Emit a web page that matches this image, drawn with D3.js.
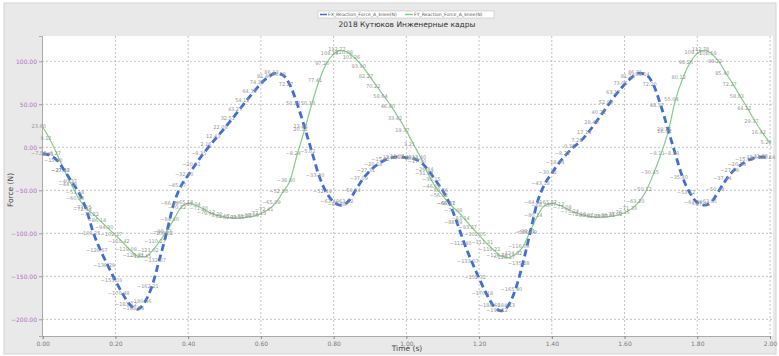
<!DOCTYPE html>
<meta charset="utf-8" />
<script src="https://d3js.org/d3.v7.min.js"></script>
<style>
	body { margin: 0; background: #fff; }
	text { font-family: "DejaVu Sans", sans-serif; }
</style>
<div id="chart"></div>
<script>
	// sample times (s)
	var times = [
		0.00, 0.02, 0.04, 0.06, 0.08, 0.10, 0.12, 0.14, 0.16, 0.18,
		0.20, 0.22, 0.24, 0.26, 0.28, 0.30, 0.32, 0.34, 0.36, 0.38,
		0.40, 0.42, 0.44, 0.46, 0.48, 0.50, 0.52, 0.54, 0.56, 0.58,
		0.60, 0.62, 0.64, 0.66, 0.68, 0.70, 0.72, 0.74, 0.76, 0.78,
		0.80, 0.82, 0.84, 0.86, 0.88, 0.90, 0.92, 0.94, 0.96, 0.98,
		1.00, 1.02, 1.04, 1.06, 1.08, 1.10, 1.12, 1.14, 1.16, 1.18,
		1.20, 1.22, 1.24, 1.26, 1.28, 1.30, 1.32, 1.34, 1.36, 1.38,
		1.40, 1.42, 1.44, 1.46, 1.48, 1.50, 1.52, 1.54, 1.56, 1.58,
		1.60, 1.62, 1.64, 1.66, 1.68, 1.70, 1.72, 1.74, 1.76, 1.78,
		1.80, 1.82, 1.84, 1.86, 1.88, 1.90, 1.92, 1.94, 1.96, 1.98,
		2.00
	];

	// FX reaction force (N)
	var fx = [
		-7.52, -9.31, -15.40, -27.12, -40.37, -53.18, -72.44, -100.25, -120.67, -138.29,
		-155.03, -170.48, -183.12, -188.54, -180.36, -162.21, -132.07, -100.52, -66.18, -45.27,
		-32.40, -20.11, -8.35, 2.16, 12.43, 22.08, 32.51, 43.27, 54.12, 64.35,
		74.18, 81.46, 86.13, 84.08, 72.27, 50.32, 23.46, -5.02, -33.20, -52.49,
		-63.40, -67.38, -63.12, -50.24, -37.09, -27.31, -20.18, -15.02, -12.11, -11.07,
		-12.03, -13.21, -17.30, -26.44, -38.15, -50.36, -66.47, -88.29, -112.40, -133.07,
		-152.32, -170.18, -184.60, -190.22, -184.13, -165.40, -135.28, -100.09, -64.31, -43.18,
		-30.12, -18.04, -8.21, 0.35, 7.29, 17.14, 28.40, 40.22, 52.08, 63.17,
		73.05, 81.22, 86.31, 84.14, 72.20, 48.37, 20.15, -8.23, -35.40, -53.12,
		-64.28, -67.31, -63.05, -50.18, -37.24, -27.09, -20.33, -15.12, -12.08, -11.30,
		-12.14
	];

	// FY reaction force (N)
	var fy = [
		23.60, 9.12, -8.27, -27.40, -44.18, -60.33, -71.05, -78.22, -86.14, -94.30,
		-102.17, -110.42, -119.08, -126.31, -127.45, -121.02, -110.27, -98.13, -84.40, -70.22,
		-65.18, -67.04, -71.30, -76.12, -79.20, -81.07, -82.11, -82.35, -81.28, -80.05,
		-77.13, -72.41, -65.09, -52.30, -38.80, -8.24, 20.12, 50.33, 77.41, 97.20,
		108.26, 112.77, 110.08, 103.26, 93.90, 82.27, 70.22, 58.64, 46.80, 33.42,
		19.37, 3.21, -12.40, -31.17, -46.09, -56.32, -66.21, -74.08, -83.14, -93.27,
		-102.05, -111.31, -119.22, -126.40, -128.17, -124.32, -116.08, -98.21, -80.14, -68.03,
		-65.27, -67.12, -71.08, -75.24, -78.19, -80.07, -81.22, -81.30, -80.41, -79.02,
		-76.15, -71.33, -63.20, -50.12, -30.45, -8.11, 18.32, 55.04, 80.12, 98.26,
		109.17, 112.78, 108.58, 99.22, 85.40, 72.27, 58.03, 44.12, 29.37, 16.42,
		5.24
	];

	var xTicks = [0, 0.2, 0.4, 0.6, 0.8, 1.0, 1.2, 1.4, 1.6, 1.8, 2.0];
	var yTicks = [-200, -150, -100, -50, 0, 50, 100];

	var W = 779, H = 356;
	var plot = { left: 42, right: 773, top: 36, bottom: 336 };

	var svg = d3.select("#chart").append("svg")
		.attr("width", W).attr("height", H);

	// outer panel
	svg.append("rect")
		.attr("x", 4).attr("y", 3).attr("width", 772).attr("height", 351)
		.attr("fill", "#e9e9e9").attr("stroke", "#d4d4d4");

	// plot area
	svg.append("rect")
		.attr("x", plot.left).attr("y", plot.top)
		.attr("width", plot.right - plot.left).attr("height", plot.bottom - plot.top)
		.attr("fill", "#fff");

	var x = d3.scaleLinear().domain([0, 2]).range([42.7, 770]);
	var y = d3.scaleLinear().domain([-219.4, 129.4]).range([plot.bottom, plot.top]);

	// grid
	svg.append("g").selectAll("line").data(xTicks.slice(1)).join("line")
		.attr("x1", d => x(d)).attr("x2", d => x(d))
		.attr("y1", plot.top).attr("y2", plot.bottom)
		.attr("stroke", "#a8a8a8").attr("stroke-width", 0.7)
		.attr("stroke-dasharray", "2,2");
	svg.append("g").selectAll("line").data(yTicks).join("line")
		.attr("x1", plot.left).attr("x2", plot.right)
		.attr("y1", d => y(d)).attr("y2", d => y(d))
		.attr("stroke", "#a8a8a8").attr("stroke-width", 0.7)
		.attr("stroke-dasharray", "2,2");

	// axes
	var fmt = d3.format(".2f");
	var xAxis = svg.append("g")
		.attr("transform", "translate(0," + plot.bottom + ")")
		.attr("color", "#888")
		.call(d3.axisBottom(x).tickValues(xTicks).tickFormat(fmt).tickSize(3).tickPadding(3));
	var yAxis = svg.append("g")
		.attr("transform", "translate(" + plot.left + ",0)")
		.attr("color", "#999")
		.call(d3.axisLeft(y).tickValues(yTicks).tickFormat(fmt).tickSize(3).tickPadding(2));

	xAxis.select(".domain").attr("stroke", "#aaa");
	yAxis.select(".domain").attr("stroke", "#aaa");
	xAxis.selectAll("text").attr("fill", "#7a7a7a").style("font-size", "6px");
	yAxis.selectAll("text").attr("fill", "#b36fc6").style("font-size", "6px");

	// lines
	var rowsX = times.map((t, i) => ({ t: t, v: fx[i] }));
	var rowsY = times.map((t, i) => ({ t: t, v: fy[i] }));
	var line = d3.line().x(d => x(d.t)).y(d => y(d.v)).curve(d3.curveMonotoneX);

	svg.append("path").datum(rowsY)
		.attr("d", line).attr("fill", "none")
		.attr("stroke", "#7fd07f").attr("stroke-width", 1.2);
	svg.append("path").datum(rowsX)
		.attr("d", line).attr("fill", "none")
		.attr("stroke", "#3f6fd6").attr("stroke-width", 2.8)
		.attr("stroke-dasharray", "7,4");

	// point value labels
	[rowsY, rowsX].forEach(rows => {
		svg.append("g").selectAll("text").data(rows).join("text")
			.attr("x", d => x(d.t) - 4)
			.attr("y", d => y(d.v) + 1)
			.attr("text-anchor", "middle")
			.attr("fill", "#959595")
			.style("font-size", "5px")
			.text(d => fmt(d.v));
	});

	// title
	svg.append("text")
		.attr("x", 407).attr("y", 27)
		.attr("text-anchor", "middle")
		.attr("fill", "#333").style("font-size", "7.5px")
		.text("2018 Кутюков Инженерные кадры");

	// legend
	var lg = svg.append("g").attr("transform", "translate(318,11)");
	lg.append("rect").attr("width", 176).attr("height", 7)
		.attr("fill", "#fff").attr("stroke", "#c4c4c4").attr("stroke-width", 0.6);
	lg.append("line").attr("x1", 2).attr("x2", 9).attr("y1", 3.5).attr("y2", 3.5)
		.attr("stroke", "#3f6fd6").attr("stroke-width", 1.5);
	lg.append("text").attr("x", 10).attr("y", 5.4)
		.attr("fill", "#555").style("font-size", "4.6px")
		.text("FX_Reaction_Force_A_knee(N)");
	lg.append("line").attr("x1", 87).attr("x2", 95).attr("y1", 3.5).attr("y2", 3.5)
		.attr("stroke", "#7fd07f").attr("stroke-width", 1.5);
	lg.append("text").attr("x", 96).attr("y", 5.4)
		.attr("fill", "#555").style("font-size", "4.6px")
		.text("FY_Reaction_Force_A_knee(N)");

	// axis titles
	svg.append("text")
		.attr("x", 407).attr("y", 351)
		.attr("text-anchor", "middle")
		.attr("fill", "#444").style("font-size", "7.5px")
		.text("Time (s)");
	svg.append("text")
		.attr("transform", "translate(13,190) rotate(-90)")
		.attr("text-anchor", "middle")
		.attr("fill", "#444").style("font-size", "7.5px")
		.text("Force (N)");
</script>
